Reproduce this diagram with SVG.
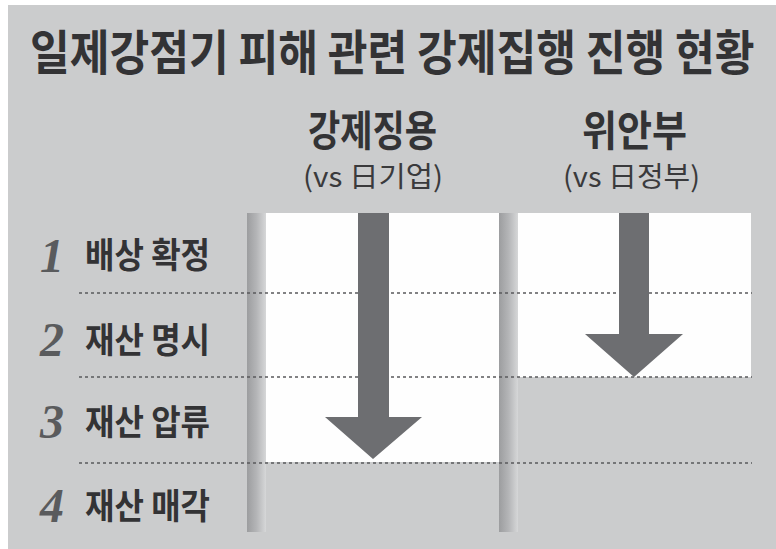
<svg xmlns="http://www.w3.org/2000/svg" width="776" height="549" viewBox="0 0 776 549">
<defs>
<linearGradient id="pillar" x1="0" y1="0" x2="1" y2="0">
<stop offset="0" stop-color="#9c9d9f"/>
<stop offset="0.5" stop-color="#b4b5b7"/>
<stop offset="1" stop-color="#d6d7d8"/>
</linearGradient>
<style>
.title{font-family:"Noto Sans CJK KR","Noto Sans",sans-serif;font-weight:700;font-size:48px;fill:#333335}
.head{font-family:"Noto Sans CJK KR","Noto Sans",sans-serif;font-weight:700;font-size:42px;fill:#333335;text-anchor:middle}
.sub{font-family:"Noto Sans CJK KR","Noto Sans",sans-serif;font-weight:400;font-size:28px;fill:#3a3a3c;text-anchor:middle}
.lab{font-family:"Noto Sans CJK KR","Noto Sans",sans-serif;font-weight:700;font-size:35px;fill:#333335}
.num{font-family:"Liberation Serif",serif;font-weight:700;font-style:italic;font-size:48px;fill:#5a5b5d}
.dash{stroke:#5a5a5c;stroke-width:1.3;stroke-dasharray:3 3;fill:none}
.arrow{fill:#6d6e71}
.pil{fill:url(#pillar)}
</style>
</defs>
<rect x="0" y="0" width="776" height="549" fill="#ffffff"/>
<rect x="8" y="5" width="768" height="544" fill="#cbcccd"/>
<g id="title">
<text class="title" transform="translate(30,70) scale(0.9,1)" x="0" y="0">일제강점기 피해 관련 강제집행 진행 현황</text>
</g>
<g id="panels">
<rect x="266" y="213" width="233" height="249" fill="#fefefe"/>
<rect x="518" y="213" width="233" height="164" fill="#fefefe"/>
<rect class="pil" x="247" y="213" width="19" height="319"/>
<rect class="pil" x="499" y="213" width="19" height="319"/>
</g>
<g id="col-forced-labor">
<text class="head" x="372.5" y="146" textLength="129" lengthAdjust="spacingAndGlyphs">강제징용</text>
<text class="sub" x="373" y="187" textLength="140" lengthAdjust="spacingAndGlyphs">(vs 日기업)</text>
</g>
<g id="col-comfort-women">
<text class="head" x="634.5" y="146" textLength="105" lengthAdjust="spacingAndGlyphs">위안부</text>
<text class="sub" x="631.5" y="187" textLength="137" lengthAdjust="spacingAndGlyphs">(vs 日정부)</text>
</g>
<g id="row-dividers">
<line class="dash" x1="79" y1="293" x2="752" y2="293"/>
<line class="dash" x1="79" y1="377" x2="752" y2="377"/>
<line class="dash" x1="79" y1="463" x2="752" y2="463"/>
</g>
<g id="row1">
<text class="num" x="40" y="272">1</text>
<text class="lab" x="85" y="268" textLength="125" lengthAdjust="spacingAndGlyphs">배상 확정</text>
</g>
<g id="row2">
<text class="num" x="40" y="356">2</text>
<text class="lab" x="85" y="353" textLength="125" lengthAdjust="spacingAndGlyphs">재산 명시</text>
</g>
<g id="row3">
<text class="num" x="40" y="438">3</text>
<text class="lab" x="85" y="435" textLength="125" lengthAdjust="spacingAndGlyphs">재산 압류</text>
</g>
<g id="row4">
<text class="num" x="40" y="522">4</text>
<text class="lab" x="85" y="519" textLength="125" lengthAdjust="spacingAndGlyphs">재산 매각</text>
</g>
<g id="connectors">
<polygon class="arrow" points="358,213 389,213 389,417 422,417 373,459 325,417 358,417"/>
<polygon class="arrow" points="619,213 649,213 649,334 683,334 634,377 585,334 619,334"/>
</g>
</svg>
